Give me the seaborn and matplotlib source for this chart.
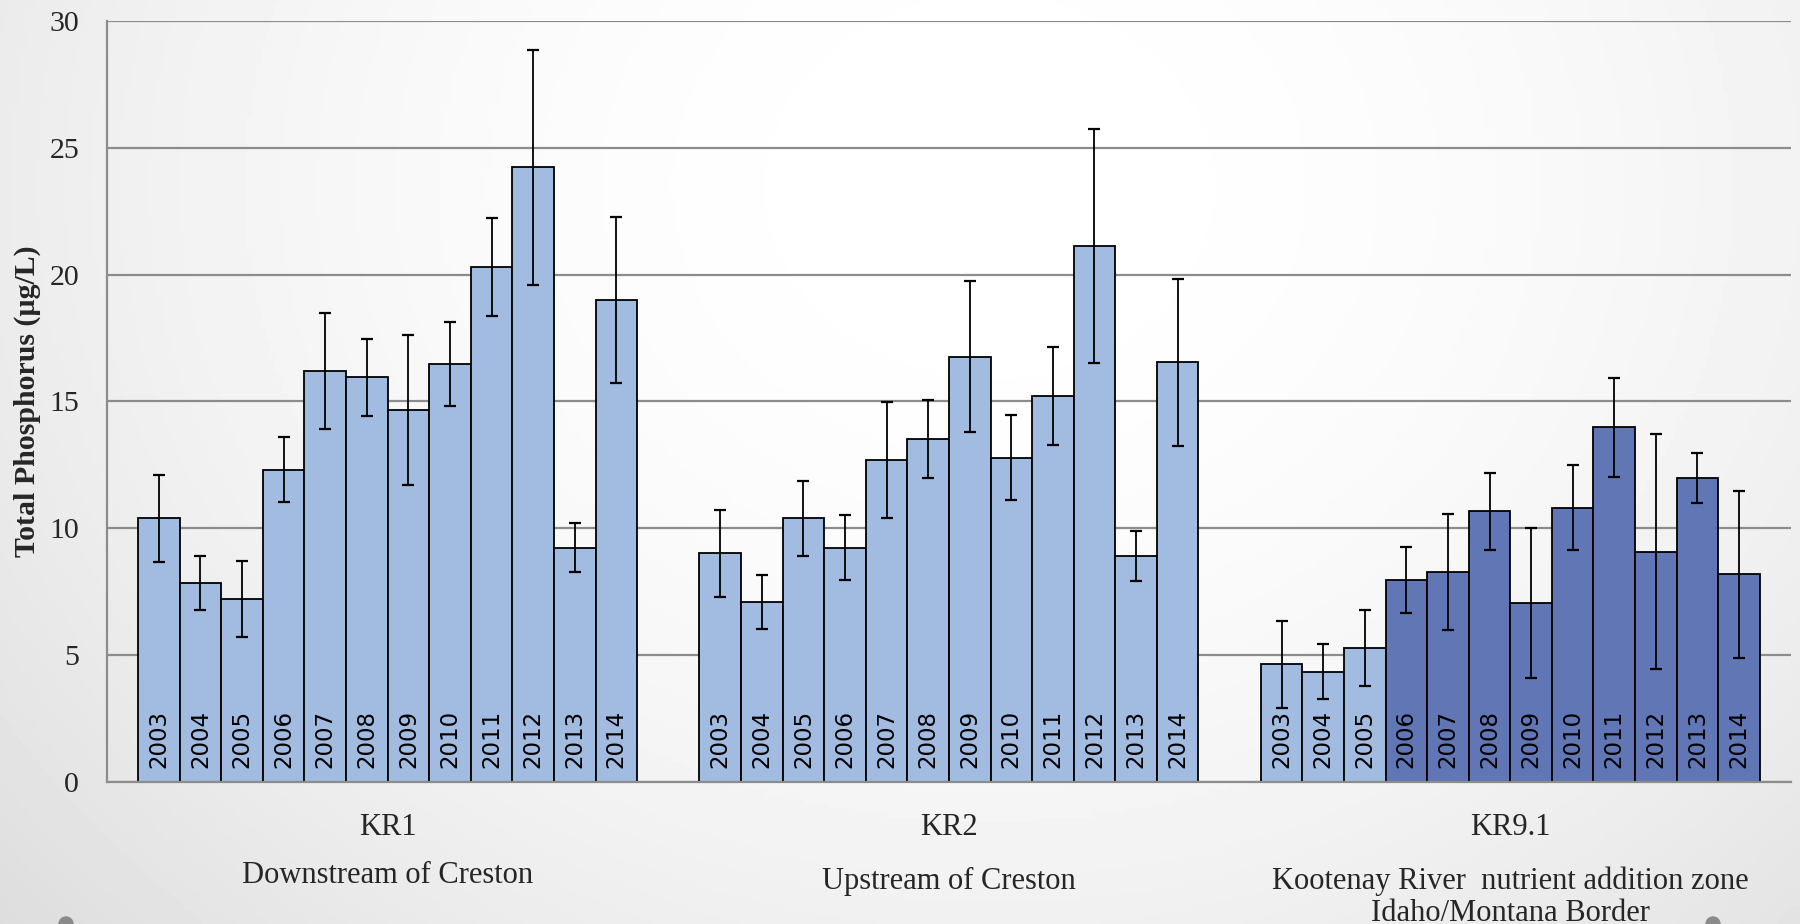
import numpy as np
import pandas as pd
import seaborn as sns
import matplotlib.pyplot as plt
from matplotlib.patches import Circle
from matplotlib.transforms import blended_transform_factory, IdentityTransform

# data
years = [str(y) for y in range(2003, 2015)]
sites = ["KR1", "KR2", "KR9.1"]
site_notes = ["Downstream of Creston",
              "Upstream of Creston",
              "Kootenay River  nutrient addition zone\nIdaho/Montana Border"]
kr1 = [10.40, 7.85, 7.21, 12.31, 16.19, 15.96, 14.68, 16.48, 20.30, 24.23, 9.24, 19.01]
kr2 = [9.01, 7.09, 10.39, 9.24, 12.68, 13.52, 16.77, 12.79, 15.21, 21.13, 8.90, 16.54]
kr91 = [4.64, 4.35, 5.29, 7.97, 8.28, 10.68, 7.06, 10.82, 13.98, 9.08, 11.98, 8.18]
# the same error range is drawn for every site
errs = [1.72, 1.07, 1.49, 1.29, 2.28, 1.52, 2.96, 1.66, 1.94, 4.63, 0.98, 3.28]
# KR9.1 years inside the nutrient addition period (darker bars)
dark_years = years[3:]

df = pd.DataFrame({
    "site": np.repeat(sites, len(years)),
    "year": years * len(sites),
    "tp": kr1 + kr2 + kr91,
    "err": errs * len(sites),
})

light = "#A2BBE1"
dark = "#6176B5"
grid_col = "#8c8c8c"

sns.set_style("white")
plt.rcParams["font.family"] = ["Liberation Serif", "DejaVu Serif"]

fig = plt.figure(figsize=(18, 9.24), dpi=100)

# slide background: soft grey gradient
bg = fig.add_axes([0, 0, 1, 1], zorder=-10)
yy, xx = np.mgrid[0:1:200j, 0:1:400j]
r2 = ((xx - 0.55) / 0.6) ** 2 + ((yy - 0.2) / 1.0) ** 2
shade = np.clip(1 - 0.09 * r2, 0.84, 1)
bg.imshow(shade, cmap="gray", vmin=0, vmax=1, aspect="auto",
          extent=[0, 1, 0, 1], origin="upper")
bg.set_xlim(0, 1)
bg.set_ylim(0, 1)
bg.axis("off")

ax = fig.add_axes([0.0594, 0.1537, 0.9356, 0.8236])
ax.set_facecolor("none")

sns.barplot(data=df, x="site", y="tp", hue="year", order=sites, hue_order=years,
            palette={y: light for y in years}, width=12 / 13.5, saturation=1,
            errorbar=None, edgecolor="black", linewidth=1.3, legend=False,
            ax=ax, zorder=2)

xs, ys, es = [], [], []
for yi, cont in enumerate(list(ax.containers)):
    for si, patch in enumerate(cont):
        row = df[(df.site == sites[si]) & (df.year == years[yi])].iloc[0]
        if sites[si] == "KR9.1" and years[yi] in dark_years:
            patch.set_facecolor(dark)
        xc = patch.get_x() + patch.get_width() / 2
        xs.append(xc)
        ys.append(row.tp)
        es.append(row.err)
        ax.annotate(years[yi], (xc, 0), xytext=(0, 10), textcoords="offset points",
                    rotation=90, ha="center", va="bottom", fontsize=16.5,
                    family="DejaVu Sans", color="black", zorder=4)

ax.errorbar(xs, ys, yerr=es, fmt="none", ecolor="black", elinewidth=1.3,
            capsize=4.5, capthick=1.6, zorder=3)

# axes styling
ax.set_ylim(0, 30)
ax.set_yticks(range(0, 31, 5))
ax.set_xlim(-0.5, 2.5)
ax.grid(axis="y", color=grid_col, lw=1.6)
ax.set_axisbelow(True)
for side in ["top", "right"]:
    ax.spines[side].set_visible(False)
for side in ["left", "bottom"]:
    ax.spines[side].set_color(grid_col)
    ax.spines[side].set_linewidth(1.6)

ax.set_xticks(range(len(sites)))
ax.set_xticklabels(sites)
ax.set_xticks([-0.5, 0.5, 1.5, 2.5], minor=True)
ax.tick_params(axis="x", which="major", length=0, labelsize=22, pad=22)
ax.tick_params(axis="x", which="minor", length=7, width=1.5, color=grid_col)
ax.tick_params(axis="y", length=7, width=1.5, color=grid_col, labelsize=21.5, pad=13)

ax.set_xlabel("")
ax.set_ylabel("Total Phosphorus (µg/L)", fontsize=21.5, fontweight="bold")
ax.yaxis.set_label_coords(-0.039, 0.5)

# site descriptions under the group labels
trans = blended_transform_factory(ax.transData, fig.transFigure)
note_y = [0.052, 0.046, 0.029]
for i, note in enumerate(site_notes):
    ax.text(i, note_y[i], note, transform=trans, ha="center", va="center",
            fontsize=22, linespacing=1.1)

# little slide markers at the bottom edge
for px in [66, 1713]:
    fig.add_artist(Circle((px, 0), 7, transform=IdentityTransform(),
                          color="#8a8a8a", zorder=5))

fig.savefig("out.png", dpi=100)
